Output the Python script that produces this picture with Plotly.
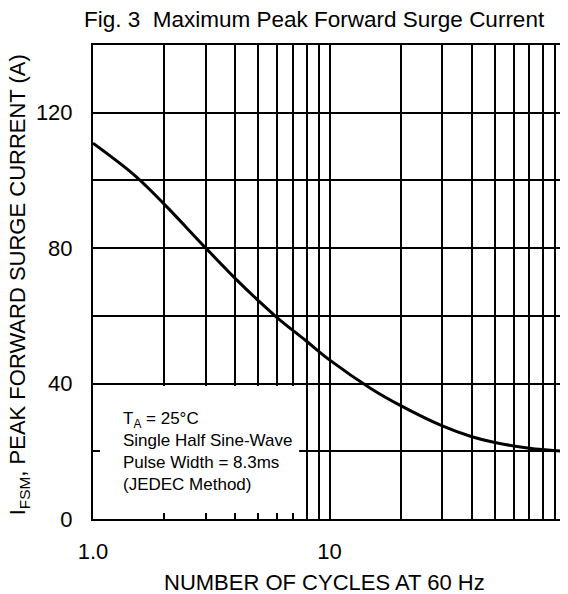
import plotly.graph_objects as go

# Data
cycles = [1, 1.5, 2, 3, 4, 5, 6, 8, 10, 15, 20, 30, 40, 50, 70, 100]
surge_current = [111, 101.5, 93, 80, 71, 64.5, 59.5, 52.5, 47, 38.5, 33.5, 27.5, 24.3, 22.6, 20.9, 20]

x_tick_vals = [1, 10]
x_tick_text = ["1.0", "10"]
x_minor_vals = [2, 3, 4, 5, 6, 7, 8, 9, 20, 30, 40, 50, 60, 70, 80, 90, 100]
y_tick_vals = [0, 40, 80, 120]
y_minor_vals = [20, 60, 100, 140]

title_text = "Fig. 3\u00a0\u00a0Maximum Peak Forward Surge Current"
x_title = "NUMBER OF CYCLES AT 60 Hz"
y_title = "I<sub>FSM</sub>, PEAK FORWARD SURGE CURRENT (A)"
note_text = "T<sub>A</sub> = 25°C<br>Single Half Sine-Wave<br>Pulse Width = 8.3ms<br>(JEDEC Method)"

FONT = "Liberation Sans, Arial, sans-serif"

# The page body has an 8px margin, so the figure is sized to fill the window
OFF = 8
W, H = 568 - OFF, 594 - OFF
PLOT_L, PLOT_R, PLOT_T, PLOT_B = 93, 568, 45, 519  # window pixels
ML = PLOT_L - OFF
MR = 0
MT = PLOT_T - OFF
MB = H - (PLOT_B - OFF)
PW = PLOT_R - PLOT_L
PH = PLOT_B - PLOT_T


def px_x(px):
    return (px - PLOT_L) / PW


def px_y(py):
    return (PLOT_B - py) / PH


fig = go.Figure()
fig.add_trace(go.Scatter(
    x=cycles, y=surge_current, mode="lines",
    line=dict(color="black", width=3, shape="spline", smoothing=1),
    hoverinfo="skip", showlegend=False,
))

fig.update_layout(
    width=W, height=H,
    margin=dict(l=ML, r=MR, t=MT, b=MB),
    paper_bgcolor="white", plot_bgcolor="white",
    font=dict(family=FONT, size=22, color="black"),
    showlegend=False,
    xaxis=dict(
        type="log", range=[0, 2],
        tickmode="array", tickvals=x_tick_vals, ticktext=x_tick_text,
        showgrid=True, gridcolor="black", gridwidth=2,
        showline=True, linecolor="black", linewidth=2, mirror=True,
        ticks="", ticklabelstandoff=12,
        minor=dict(tickmode="array", tickvals=x_minor_vals, showgrid=True,
                   gridcolor="black", gridwidth=2, ticks=""),
        zeroline=False, fixedrange=True,
    ),
    yaxis=dict(
        range=[0, 140],
        tickmode="array", tickvals=y_tick_vals,
        showgrid=True, gridcolor="black", gridwidth=2,
        showline=True, linecolor="black", linewidth=2, mirror=True,
        ticks="", ticklabelstandoff=14,
        minor=dict(tickmode="array", tickvals=y_minor_vals, showgrid=True,
                   gridcolor="black", gridwidth=2, ticks=""),
        zeroline=False, fixedrange=True,
    ),
)

# White legend box covering the grid in the lower-left
fig.add_shape(type="rect", xref="paper", yref="paper",
              x0=px_x(100), x1=px_x(300), y0=px_y(513), y1=px_y(386),
              fillcolor="white", line=dict(width=0), layer="above")

fig.add_annotation(text=note_text, xref="paper", yref="paper",
                   x=px_x(121), y=px_y(407), xanchor="left", yanchor="top",
                   align="left", showarrow=False,
                   font=dict(family=FONT, size=17, color="black"))

fig.add_annotation(text=title_text, xref="paper", yref="paper",
                   x=px_x(315), y=px_y(19), xanchor="center", yanchor="middle",
                   showarrow=False, font=dict(family=FONT, size=22.5, color="black"))

fig.add_annotation(text=x_title, xref="paper", yref="paper",
                   x=px_x(325), y=px_y(582), xanchor="center", yanchor="middle",
                   showarrow=False, font=dict(family=FONT, size=22, color="black"))

fig.add_annotation(text=y_title, xref="paper", yref="paper",
                   x=px_x(19), y=px_y(285), xanchor="center", yanchor="middle",
                   textangle=-90, showarrow=False,
                   font=dict(family=FONT, size=22, color="black"))

fig.write_html("out.html")
